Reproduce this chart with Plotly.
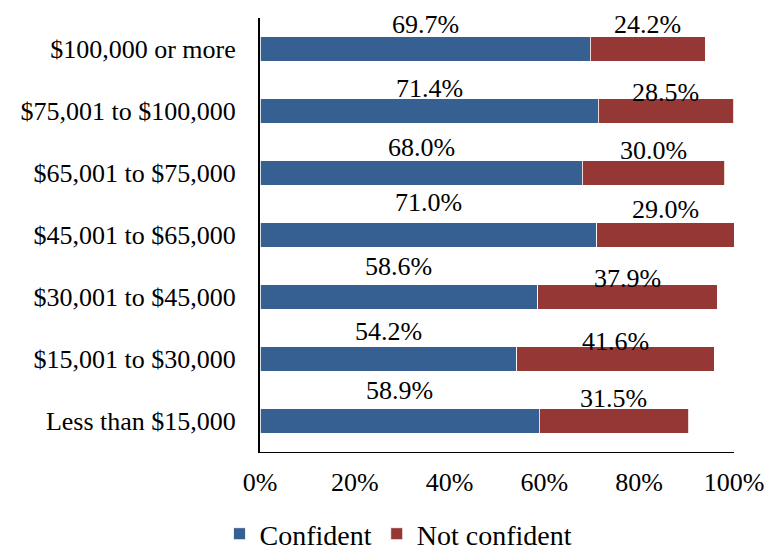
import plotly.graph_objects as go

categories = ["$100,000 or more", "$75,001 to $100,000", "$65,001 to $75,000",
              "$45,001 to $65,000", "$30,001 to $45,000", "$15,001 to $30,000",
              "Less than $15,000"]
confident = [69.7, 71.4, 68.0, 71.0, 58.6, 54.2, 58.9]
not_confident = [24.2, 28.5, 30.0, 29.0, 37.9, 41.6, 31.5]
x_ticks = [0, 20, 40, 60, 80, 100]
x_tick_labels = ["0%", "20%", "40%", "60%", "80%", "100%"]

# style: label vertical shifts in px (label positions above the bars)
blue_shift = [25, 23, 26, 33, 31, 28, 31]
red_shift = [25, 19, 23, 26, 19, 18, 23]

BLUE = "#376092"
RED = "#953735"
FONT = "Liberation Serif"
FS = 26
FS_LBL = 26
FS_LEG = 28

fig = go.Figure()
fig.add_trace(go.Bar(y=categories, x=confident, orientation="h", name="Confident",
                     marker=dict(color=BLUE, line=dict(color="#ffffff", width=0.8)),
                     width=0.4, hoverinfo="skip"))
fig.add_trace(go.Bar(y=categories, x=not_confident, orientation="h", name="Not confident",
                     marker=dict(color=RED, line=dict(color="#ffffff", width=0.8)),
                     width=0.4, hoverinfo="skip"))

for i, cat in enumerate(categories):
    c = confident[i]
    n = not_confident[i]
    fig.add_annotation(x=c / 2, y=cat, text=f"{c:.1f}%", showarrow=False,
                       yshift=blue_shift[i], font=dict(family=FONT, size=FS_LBL, color="#000"))
    fig.add_annotation(x=c + n / 2, y=cat, text=f"{n:.1f}%", showarrow=False,
                       yshift=red_shift[i], font=dict(family=FONT, size=FS_LBL, color="#000"))

fig.update_layout(
    template="none",
    barmode="stack",
    width=781, height=551,
    margin=dict(l=252, r=55, t=10, b=107, pad=0),
    plot_bgcolor="white", paper_bgcolor="white",
    font=dict(family=FONT, size=FS, color="#000"),
    showlegend=True,
    legend=dict(orientation="h", xref="container", yref="container",
                x=0.5, xanchor="center", y=0.0, yanchor="bottom",
                font=dict(family=FONT, size=FS_LEG, color="#000"),
                traceorder="normal", itemwidth=30, bgcolor="rgba(0,0,0,0)"),
    xaxis=dict(range=[0, 100], tickvals=x_ticks, ticktext=x_tick_labels, automargin=False,
               showgrid=False, zeroline=False, showline=True, linecolor="#000", linewidth=1,
               ticks="outside", ticklen=7, tickcolor="rgba(0,0,0,0)",
               tickfont=dict(family=FONT, size=FS, color="#000")),
    yaxis=dict(categoryorder="array", categoryarray=categories, range=[6.5, -0.5],
               automargin=False,
               showgrid=False, zeroline=False, showline=True, linecolor="#000", linewidth=2,
               ticks="outside", ticklen=17, tickcolor="rgba(0,0,0,0)",
               tickfont=dict(family=FONT, size=FS, color="#000")),
)

fig.write_html("out.html")
